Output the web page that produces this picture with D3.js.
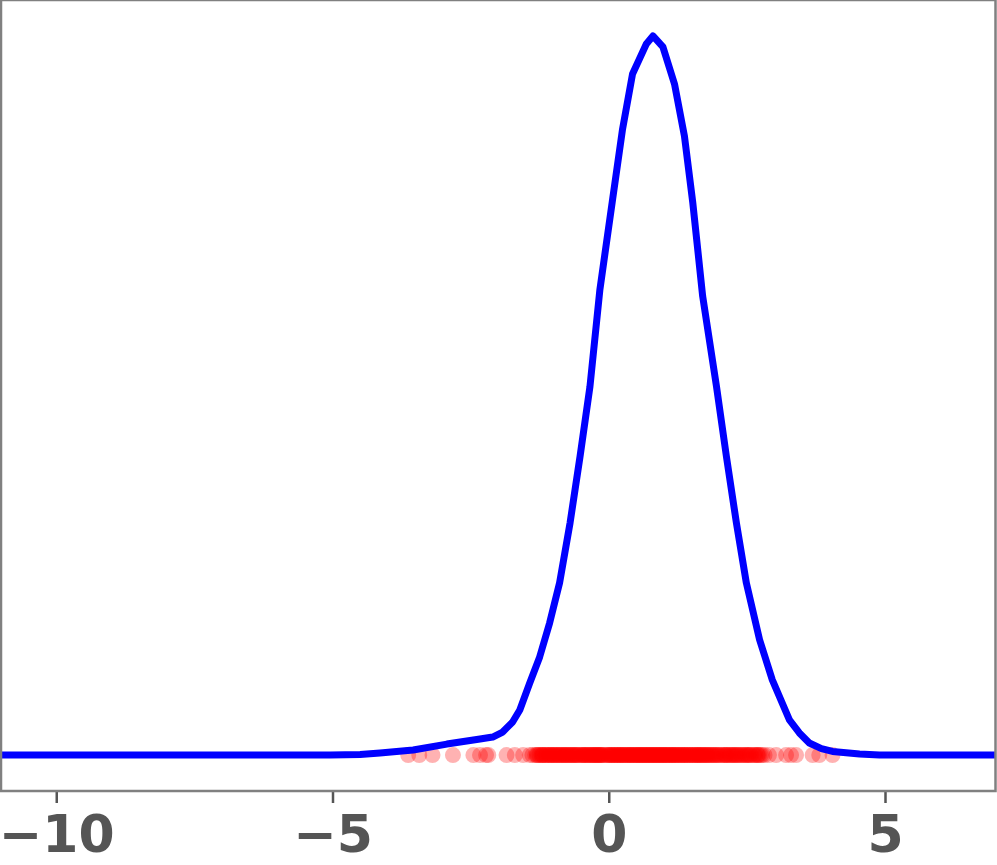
<!DOCTYPE html>
<html>
<head>
<meta charset="utf-8">
<script src="https://cdn.jsdelivr.net/npm/d3@7"></script>
<style>
  html, body { margin: 0; padding: 0; background: #fff; }
</style>
</head>
<body>
<div id="chart"></div>
<script>

// density curve (x, density)
var curveX = [-11, -5.04, -4.5, -4.14, -3.54, -2.93, -2.33, -2.10, -1.92, -1.74, -1.61, -1.43, -1.25,
              -1.07, -0.89, -0.70, -0.52, -0.34, -0.16, 0.07, 0.25, 0.43, 0.68, 0.80, 0.98, 1.19,
              1.37, 1.52, 1.70, 1.95, 2.13, 2.31, 2.49, 2.73, 2.96, 3.27, 3.45, 3.63, 3.85, 4.05, 4.54, 4.90, 7];
var curveY = [0, 0, 0.0003, 0.0011, 0.0028, 0.0061, 0.0089, 0.0100, 0.0128, 0.0184, 0.0251, 0.0401, 0.0546,
              0.0735, 0.0958, 0.1292, 0.1660, 0.2050, 0.2590, 0.3092, 0.3482, 0.3788, 0.3955, 0.4000, 0.3939, 0.3733,
              0.3443, 0.3075, 0.2552, 0.2050, 0.1660, 0.1292, 0.0958, 0.0641, 0.0418, 0.0195, 0.0123, 0.0067, 0.0036,
              0.0020, 0.0006, 0, 0];

// sample points along the baseline (tails)
var tailSamples = [-3.63, -3.43, -3.19, -2.82, -2.45, -2.33, -2.22, -2.18, -1.85, -1.70, -1.55, -1.43, -1.30, -1.19,
  3.03, 3.21, 3.30, 3.39, 3.69, 3.81, 4.05];

// sample points along the baseline (dense middle)
var coreSamples = [-1.12, -1.05, -1.01, -0.96, -0.92, -0.87, -0.83, -0.80, -0.74, -0.71, -0.66, -0.62, -0.59, -0.55,
  -0.50, -0.47, -0.44, -0.40, -0.37, -0.33, -0.30, -0.27, -0.24, -0.21, -0.18, -0.15, -0.12, -0.10, -0.07, -0.04,
  -0.02, 0.01, 0.03, 0.06, 0.08, 0.11, 0.13, 0.15, 0.18, 0.20, 0.22, 0.25, 0.27, 0.29, 0.31, 0.34, 0.36, 0.38,
  0.40, 0.42, 0.45, 0.47, 0.49, 0.51, 0.53, 0.55, 0.57, 0.59, 0.61, 0.63, 0.65, 0.67, 0.69, 0.71, 0.73, 0.75,
  0.77, 0.79, 0.81, 0.83, 0.85, 0.87, 0.89, 0.91, 0.93, 0.95, 0.97, 0.99, 1.01, 1.03, 1.05, 1.07, 1.10, 1.12,
  1.14, 1.16, 1.18, 1.21, 1.23, 1.25, 1.28, 1.30, 1.33, 1.35, 1.38, 1.40, 1.43, 1.46, 1.49, 1.52, 1.55, 1.58,
  1.61, 1.64, 1.68, 1.71, 1.75, 1.78, 1.82, 1.86, 1.90, 1.94, 1.98, 2.03, 2.08, 2.13, 2.18, 2.24, 2.30, 2.36,
  2.43, 2.50, 2.58, 2.66, 2.75, 2.82, 2.90,
  -1.38, -1.33, -1.30, -1.25, -1.22, -1.19, -1.15, -1.10, -1.08, -1.03, -0.99, -0.94, -0.90, -0.85, -0.81, -0.77,
  -0.73, -0.69, -0.64, -0.60, -0.57, -0.53, -0.48, -0.45, -0.42, -0.38, -0.35, -0.31, -0.28, -0.25, -0.22, -0.19,
  -0.16, -0.13, 0.00, 0.05, 0.10, 0.16, 0.21, 0.26, 0.33, 0.39, 0.44, 0.50, 0.56, 0.62, 0.68, 0.74, 0.80, 0.86,
  0.92, 0.98, 1.04, 1.09, 1.15, 1.20, 1.26, 1.32, 1.37, 1.42, 1.47, 1.51, 1.56, 1.60, 1.63, 1.66, 1.70, 1.73,
  1.77, 1.80, 1.84, 1.88, 1.92, 1.96, 2.00, 2.05, 2.10, 2.15, 2.20, 2.26, 2.32, 2.39, 2.46, 2.54, 2.62, 2.70,
  2.72, 2.78,
  -1.27, -1.21, -1.14, -1.06, -0.98, -0.89, -0.78, -0.67, 2.12, 2.22, 2.28, 2.34, 2.41, 2.48, 2.52, 2.56, 2.64, 2.69];

var xTicks = [-10, -5, 0, 5];
var xDomain = [-11, 7];
var yDomain = [-0.02, 0.42];

var width = 997, height = 865;
var plot = { left: 1, right: 995.5, top: 0, bottom: 791 };

var svg = d3.select("#chart").append("svg")
    .attr("width", width)
    .attr("height", height);

var x = d3.scaleLinear().domain(xDomain).range([plot.left, plot.right]);
var y = d3.scaleLinear().domain(yDomain).range([plot.bottom, plot.top]);

svg.append("clipPath").attr("id", "clip")
  .append("rect")
    .attr("x", plot.left).attr("y", plot.top)
    .attr("width", plot.right - plot.left)
    .attr("height", plot.bottom - plot.top);

var g = svg.append("g").attr("clip-path", "url(#clip)");

// rug points
g.selectAll("circle.pt")
  .data(tailSamples.concat(coreSamples))
  .join("circle")
    .attr("class", "pt")
    .attr("cx", function(d) { return x(d); })
    .attr("cy", y(0))
    .attr("r", 8)
    .attr("fill", "#ff0000")
    .attr("fill-opacity", 0.3);

// density line
var line = d3.line()
    .x(function(d) { return x(d[0]); })
    .y(function(d) { return y(d[1]); });

g.append("path")
    .datum(d3.zip(curveX, curveY))
    .attr("d", line)
    .attr("fill", "none")
    .attr("stroke", "#0000ff")
    .attr("stroke-width", 7)
    .attr("stroke-linejoin", "round");

// x axis
var xAxis = d3.axisBottom(x)
    .tickValues(xTicks)
    .tickSize(12)
    .tickPadding(12)
    .tickFormat(function(d) { return d < 0 ? "\u2212" + Math.abs(d) : d; });

var ax = svg.append("g")
    .attr("transform", "translate(0," + plot.bottom + ")")
    .call(xAxis);
ax.select(".domain").remove();
ax.selectAll(".tick line")
    .attr("stroke", "#555555")
    .attr("stroke-width", 2.5);
ax.selectAll(".tick text")
    .attr("fill", "#555555")
    .attr("font-family", "DejaVu Sans")
    .attr("font-weight", "bold")
    .attr("font-size", 52);

// frame
svg.append("rect")
    .attr("x", plot.left).attr("y", plot.top)
    .attr("width", plot.right - plot.left)
    .attr("height", plot.bottom - plot.top)
    .attr("fill", "none")
    .attr("stroke", "#808080")
    .attr("stroke-width", 2.5);

</script>
</body>
</html>
